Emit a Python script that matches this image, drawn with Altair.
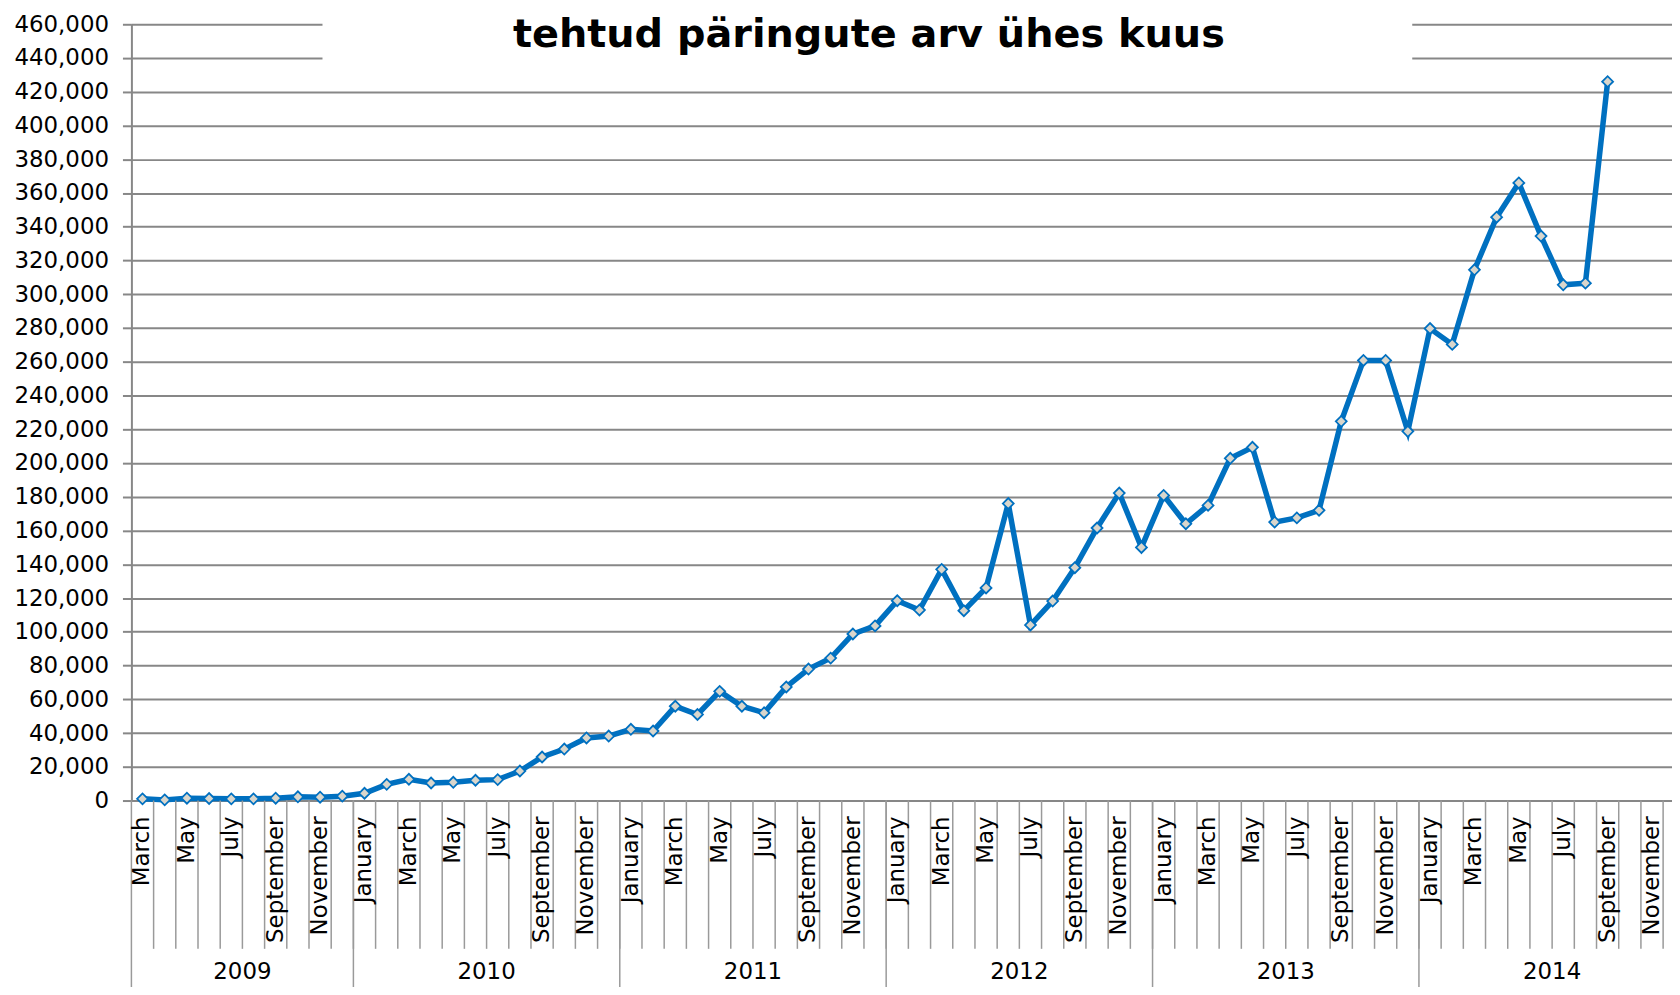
import altair as alt
import pandas as pd

# ---------------- data ----------------
YEARS = [2009, 2010, 2011, 2012, 2013, 2014]
MONTH_NAMES = ["January", "February", "March", "April", "May", "June",
               "July", "August", "September", "October", "November", "December"]

# monthly number of queries, March 2009 .. September 2014
VALUES_2009 = [1000, 400, 1400, 1200, 1000, 1000, 1400, 2200, 2000, 2600]
VALUES_2010 = [4300, 9600, 12600, 10400, 10800, 12000, 12400, 17500, 25800, 30500, 37100, 38200]
VALUES_2011 = [42200, 41200, 55900, 51000, 64700, 55900, 52000, 67300, 77900, 84400, 98700, 103500]
VALUES_2012 = [118400, 112900, 137000, 112500, 126000, 176000, 104000, 118200, 138000, 161500, 182200, 150000]
VALUES_2013 = [180800, 164000, 174900, 202800, 209300, 165000, 167500, 172000, 224700, 260800, 260800, 218800]
VALUES_2014 = [279700, 270300, 314500, 345700, 366000, 334500, 305600, 306600, 426000]

Y_TICKS = list(range(0, 460001, 20000))
TITLE = "tehtud päringute arv ühes kuus"

# categories on the axis: March 2009 .. November 2014
categories = [(y, m) for y in YEARS for m in MONTH_NAMES][2:-1]
values = VALUES_2009 + VALUES_2010 + VALUES_2011 + VALUES_2012 + VALUES_2013 + VALUES_2014

df = pd.DataFrame({
    "pos": [i + 0.5 for i in range(len(values))],
    "value": values,
    "year": [categories[i][0] for i in range(len(values))],
    "month": [categories[i][1] for i in range(len(values))],
})

label_rows = [{"pos": i + 0.5, "label": m}
              for i, (y, m) in enumerate(categories) if MONTH_NAMES.index(m) % 2 == 0]
df_month_labels = pd.DataFrame(label_rows)

df_month_ticks = pd.DataFrame({"pos": list(range(1, len(categories) + 1))})

year_start = {}
for i, (y, m) in enumerate(categories):
    year_start.setdefault(y, i)
year_bounds = [year_start[y] for y in YEARS]
year_ends = year_bounds[1:] + [year_bounds[-1] + 12]
df_year_sep = pd.DataFrame({"pos": year_bounds})
df_year_labels = pd.DataFrame({
    "pos": [(a + b) / 2 for a, b in zip(year_bounds, year_ends)],
    "label": [str(y) for y in YEARS],
})

# ---------------- layout ----------------
W, H = 1548, 780
GRID = "#878787"
BLUE = "#0070C0"
FONT = "DejaVu Sans"

xscale = alt.Scale(domain=[0, 69.4], nice=False, zero=False)
yscale = alt.Scale(domain=[0, 460000], nice=False)

base = alt.Chart(df)

line = base.mark_line(color=BLUE, strokeWidth=5.5).encode(
    x=alt.X("pos:Q", scale=xscale, axis=None),
    y=alt.Y("value:Q", scale=yscale, axis=alt.Axis(
        values=Y_TICKS, tickCount=40, format=",d", title=None, grid=True,
        gridColor=GRID, gridWidth=2, domainColor=GRID, domainWidth=2,
        tickColor=GRID, tickWidth=2, tickSize=9,
        labelFont=FONT, labelFontSize=23, labelColor="black",
        labelPadding=14, labelOverlap=False)),
)

points = base.mark_point(shape="diamond", filled=True, fill="#D9D6CC",
                         stroke=BLUE, strokeWidth=1.8, size=120, opacity=1).encode(
    x=alt.X("pos:Q", scale=xscale),
    y=alt.Y("value:Q", scale=yscale),
)

title_box = alt.Chart(pd.DataFrame({"t": [TITLE]})).mark_rect(color="white").encode(
    x=alt.value(192), x2=alt.value(1287), y=alt.value(-14), y2=alt.value(50))

title_text = alt.Chart(pd.DataFrame({"t": [TITLE]})).mark_text(
    font=FONT, fontSize=40, fontWeight="bold", color="black",
    align="center", baseline="alphabetic").encode(
    x=alt.value(741), y=alt.value(23), text="t:N")

month_ticks = alt.Chart(df_month_ticks).mark_rule(color="#9a9a9a", strokeWidth=1.5).encode(
    x=alt.X("pos:Q", scale=xscale), y=alt.value(H), y2=alt.value(H + 149))

year_seps = alt.Chart(df_year_sep).mark_rule(color="#9a9a9a", strokeWidth=1.5).encode(
    x=alt.X("pos:Q", scale=xscale), y=alt.value(H), y2=alt.value(H + 200))

month_labels = alt.Chart(df_month_labels).mark_text(
    font=FONT, fontSize=23, color="black", angle=270,
    align="right", baseline="middle").encode(
    x=alt.X("pos:Q", scale=xscale), y=alt.value(H + 16), text="label:N")

year_labels = alt.Chart(df_year_labels).mark_text(
    font=FONT, fontSize=23, color="black", align="center",
    baseline="alphabetic").encode(
    x=alt.X("pos:Q", scale=xscale), y=alt.value(H + 179), text="label:N")

chart = alt.layer(
    line, points, title_box, title_text, month_ticks, year_seps, month_labels, year_labels
).properties(
    width=W, height=H,
    autosize=alt.AutoSizeParams(type="none"),
    padding={"left": 124, "top": 14, "right": 0, "bottom": 185},
    background="white",
).configure_view(stroke=None)

chart.save("out.html", embed_options={"renderer": "svg", "actions": False})
